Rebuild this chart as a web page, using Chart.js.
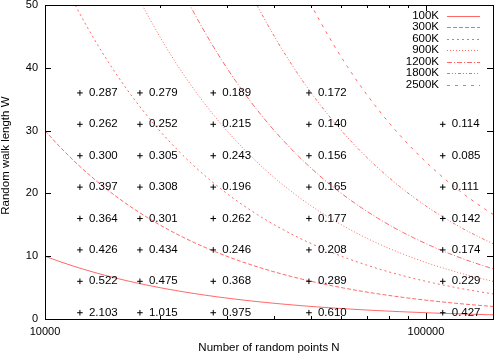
<!DOCTYPE html>
<html>
<head>
<meta charset="utf-8">
<script src="https://cdn.jsdelivr.net/npm/chart.js@4/dist/chart.umd.min.js"></script>
<style>
  html, body { margin: 0; padding: 0; background: #fff; }
  canvas { display: block; }
</style>
</head>
<body>
<canvas id="c" width="498" height="355"></canvas>
<script>
// ---- data ----
const pointN = [12350, 17750, 27650, 49300, 110700];      // x positions of the measured columns
const pointW = [1, 6, 11, 16, 21, 26, 31, 36];             // y positions (rows)
const col1 = [2.103, 0.522, 0.426, 0.364, 0.397, 0.300, 0.262, 0.287];
const col2 = [1.015, 0.475, 0.434, 0.301, 0.308, 0.305, 0.252, 0.279];
const col3 = [0.975, 0.368, 0.246, 0.262, 0.196, 0.243, 0.215, 0.189];
const col4 = [0.610, 0.289, 0.208, 0.177, 0.165, 0.156, 0.140, 0.172];
const col5 = [0.427, 0.229, 0.174, 0.142, 0.111, 0.085, 0.114, null];
const columns = [col1, col2, col3, col4, col5];

// iso-curves N*W = const
const curveLabels = ['100K', '300K', '600K', '900K', '1200K', '1800K', '2500K'];
const curveConst  = [100000, 300000, 600000, 900000, 1200000, 1800000, 2500000];
const curveDash   = [[], [4, 2], [2, 3], [1, 2], [5, 2, 1, 2], [3, 2, 1, 2, 1, 2], [3, 5]];

const xTickValues = [10000, 20000, 30000, 40000, 50000, 60000, 70000, 80000, 90000, 100000];
const xLabelled = [10000, 100000];
const yTickValues = [0, 10, 20, 30, 40, 50];

// ---- build datasets ----
const FONT = '"Liberation Sans", Arial, Helvetica, sans-serif';
Chart.defaults.color = '#000';
Chart.defaults.font.family = FONT;

const nGrid = [];
for (let i = 0; i <= 120; i++) nGrid.push(Math.pow(10, 4 + (Math.log10(150000) - 4) * i / 120));

const curveSets = curveConst.map((k, i) => ({
  type: 'line',
  label: curveLabels[i],
  data: nGrid.map(n => ({ x: n, y: k / n })),
  borderColor: 'rgba(255,0,0,0.6)',
  borderWidth: 1,
  borderDash: curveDash[i],
  pointRadius: 0,
  tension: 0,
  order: 2
}));

const markerData = [];
const markerText = [];
columns.forEach((col, ci) => {
  col.forEach((v, ri) => {
    if (v === null) return;
    markerData.push({ x: pointN[ci], y: pointW[ri] });
    markerText.push(v.toFixed(3));
  });
});

const markerSet = {
  type: 'scatter',
  label: 'points',
  data: markerData,
  showLine: false,
  pointStyle: 'cross',
  pointRadius: 2.8,
  borderColor: '#000',
  backgroundColor: '#000',
  borderWidth: 1,
  order: 1
};

// ---- plugins ----
const framePlugin = {
  id: 'frame',
  afterDatasetsDraw(chart) {
    const { ctx, chartArea: a, scales: { x, y } } = chart;
    ctx.save();
    ctx.strokeStyle = '#000';
    ctx.lineWidth = 1;
    ctx.setLineDash([]);
    ctx.strokeRect(a.left + 0.5, a.top + 0.5, a.right - a.left, a.bottom - a.top);
    ctx.beginPath();
    xTickValues.forEach(v => {
      const px = Math.round(x.getPixelForValue(v)) + 0.5;
      const len = xLabelled.includes(v) ? 6 : 3;
      ctx.moveTo(px, a.bottom); ctx.lineTo(px, a.bottom - len);
      ctx.moveTo(px, a.top); ctx.lineTo(px, a.top + len);
    });
    yTickValues.forEach(v => {
      const py = Math.round(y.getPixelForValue(v)) + 0.5;
      ctx.moveTo(a.left, py); ctx.lineTo(a.left + 6, py);
      ctx.moveTo(a.right, py); ctx.lineTo(a.right - 6, py);
    });
    ctx.stroke();

    // value labels next to markers
    ctx.fillStyle = '#000';
    ctx.font = '11.5px ' + FONT;
    ctx.textAlign = 'left';
    ctx.textBaseline = 'middle';
    markerData.forEach((p, i) => {
      ctx.fillText(markerText[i], x.getPixelForValue(p.x) + 9, y.getPixelForValue(p.y));
    });

    // key (legend) in the top-right corner
    ctx.textAlign = 'right';
    curveSets.forEach((ds, i) => {
      const ly = a.top + 10.5 + 11.5 * i;
      ctx.fillStyle = '#000';
      ctx.fillText(ds.label, a.right - 54, ly);
      ctx.strokeStyle = ds.borderColor;
      ctx.setLineDash(ds.borderDash);
      ctx.beginPath();
      ctx.moveTo(a.right - 46, Math.round(ly) + 0.5);
      ctx.lineTo(a.right - 13, Math.round(ly) + 0.5);
      ctx.stroke();
    });
    ctx.restore();
  }
};

new Chart(document.getElementById('c'), {
  type: 'line',
  data: { datasets: [...curveSets, markerSet] },
  options: {
    responsive: false,
    animation: false,
    events: [],
    layout: { padding: { left: 0, right: 1, top: 4, bottom: 0 } },
    plugins: { legend: { display: false }, tooltip: { enabled: false } },
    scales: {
      x: {
        type: 'logarithmic',
        min: 10000,
        max: 150000,
        afterBuildTicks: s => { s.ticks = xTickValues.map(v => ({ value: v, major: xLabelled.includes(v) })); },
        ticks: {
          autoSkip: false, maxRotation: 0, minRotation: 0, padding: 6,
          font: { size: 11 }, color: '#000',
          callback: v => xLabelled.includes(v) ? String(v) : ''
        },
        grid: { display: false, drawTicks: false },
        border: { display: false },
        title: { display: true, text: 'Number of random points N', color: '#000',
                 font: { size: 11.5 }, padding: { top: 0, bottom: 0 } },
        afterFit: s => { s.height = 36; s.paddingLeft = 0; s.paddingRight = 0; }
      },
      y: {
        type: 'linear',
        min: 0,
        max: 50,
        afterBuildTicks: s => { s.ticks = yTickValues.map(v => ({ value: v })); },
        ticks: { padding: 7, font: { size: 11 }, color: '#000' },
        grid: { display: false, drawTicks: false },
        border: { display: false },
        title: { display: true, text: '    Random walk length W', color: '#000',
                 font: { size: 11.5, lineHeight: 1 }, padding: { top: 0, bottom: 0 } },
        afterFit: s => { s.width = 45; s.paddingTop = 0; s.paddingBottom = 0; }
      }
    }
  },
  plugins: [framePlugin]
});
</script>
</body>
</html>
